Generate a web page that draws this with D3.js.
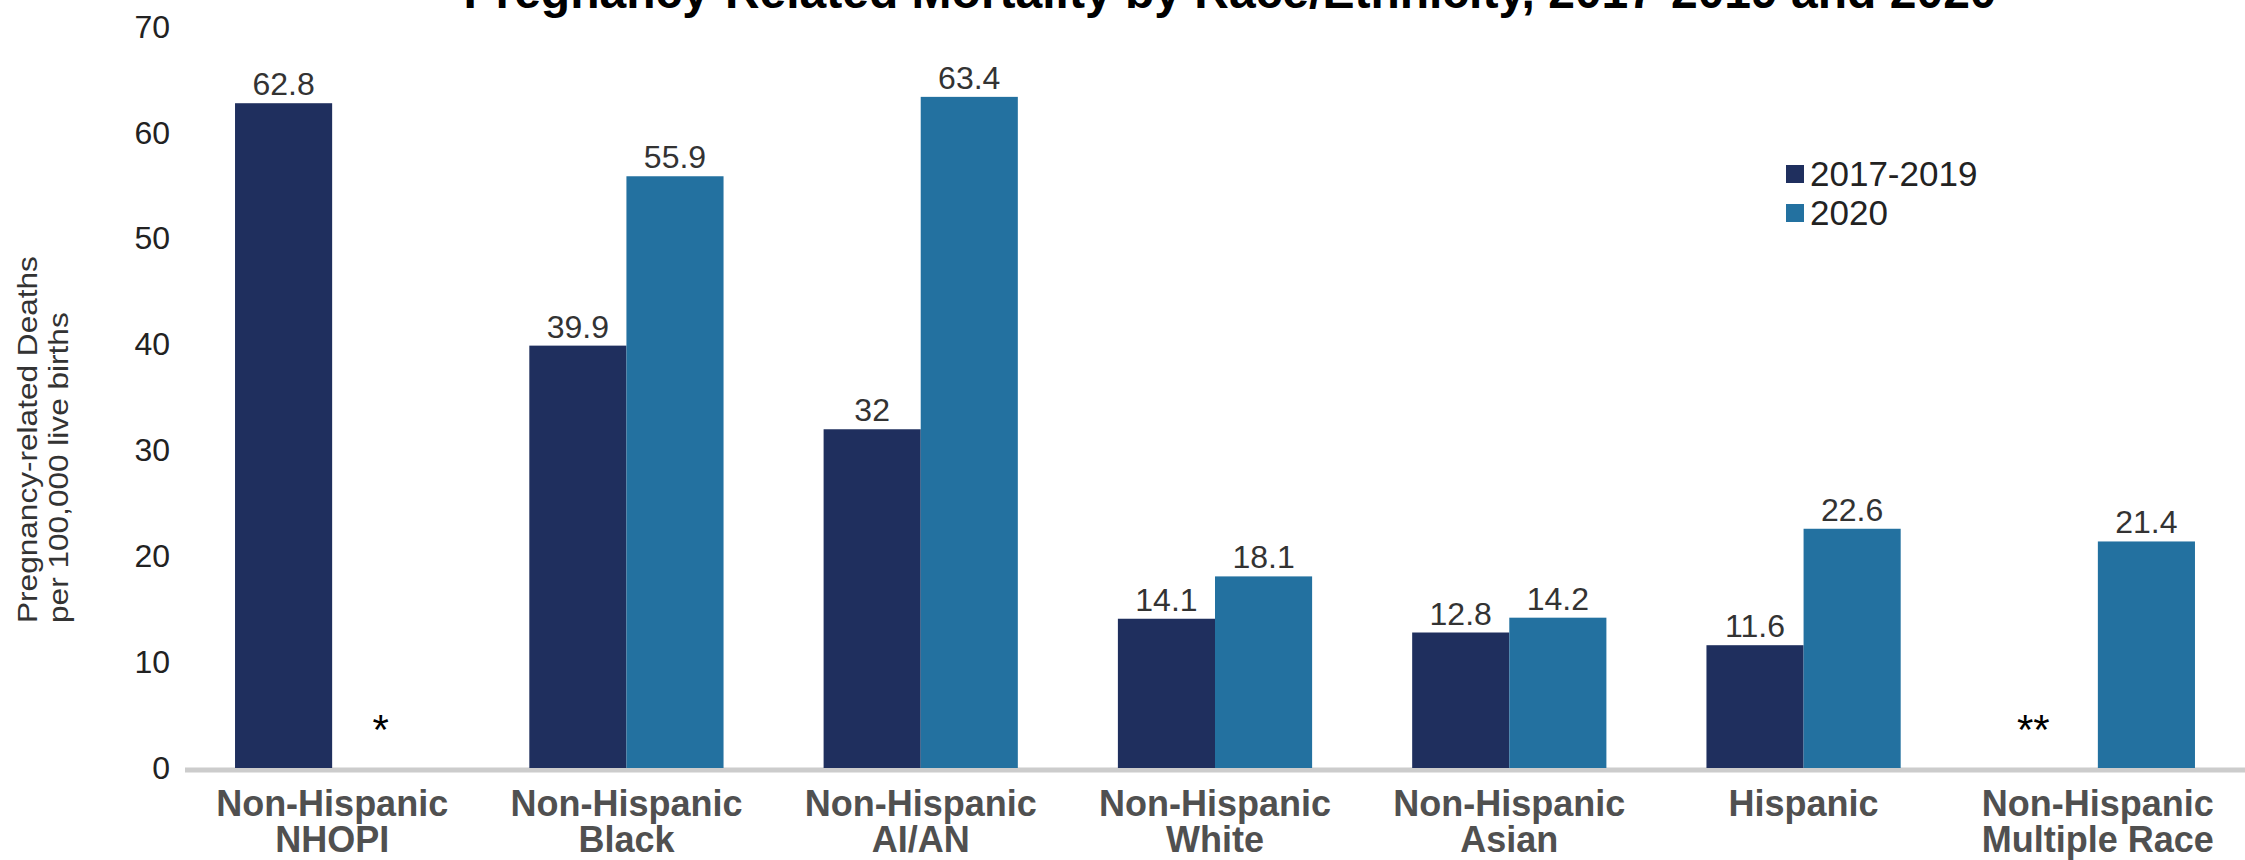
<!DOCTYPE html>
<html>
<head>
<meta charset="utf-8">
<script src="https://cdn.jsdelivr.net/npm/d3@7"></script>
<style>
  html, body { margin: 0; padding: 0; background: #ffffff; }
  svg { display: block; }
</style>
</head>
<body>
<svg id="chart" width="2245" height="860"></svg>
<script>
// Pregnancy-related deaths per 100,000 live births, by race/ethnicity
const categories = ["NHOPI", "Black", "AI/AN", "White", "Asian", "Hispanic", "Multiple Race"];
const categoryLabels = [
  ["Non-Hispanic", "NHOPI"],
  ["Non-Hispanic", "Black"],
  ["Non-Hispanic", "AI/AN"],
  ["Non-Hispanic", "White"],
  ["Non-Hispanic", "Asian"],
  ["Hispanic"],
  ["Non-Hispanic", "Multiple Race"]
];
const seriesNames = ["2017-2019", "2020"];
const values2017to2019 = [62.8, 39.9, 32, 14.1, 12.8, 11.6, null];
const values2020 = [null, 55.9, 63.4, 18.1, 14.2, 22.6, 21.4];
// footnote markers shown where a rate is not reported
const notes2017to2019 = [null, null, null, null, null, null, "**"];
const notes2020 = ["*", null, null, null, null, null, null];
const yTicks = [0, 10, 20, 30, 40, 50, 60, 70];
const titleText = "Pregnancy-Related Mortality by Race/Ethnicity, 2017-2019 and 2020";
const yTitleLines = ["Pregnancy-related Deaths", "per 100,000 live births"];

const colors = ["#1f2f5e", "#2371a0"];
const FONT = "'Liberation Sans', Arial, Helvetica, sans-serif";

const svg = d3.select("#chart");

const x = d3.scaleBand()
  .domain(categories)
  .range([185, 2245])
  .paddingInner(0.34)
  .paddingOuter(0.17);

const xInner = d3.scaleBand()
  .domain(seriesNames)
  .range([0, x.bandwidth()]);

const y = d3.scaleLinear()
  .domain([0, 70])
  .range([768, 27]);

const color = d3.scaleOrdinal().domain(seriesNames).range(colors);

const rows = categories.map((c, i) => ({
  category: c,
  items: [
    { series: seriesNames[0], value: values2017to2019[i], note: notes2017to2019[i] },
    { series: seriesNames[1], value: values2020[i], note: notes2020[i] }
  ]
}));

// title (sits partly above the top edge)
svg.append("text")
  .attr("x", 1230)
  .attr("y", 8)
  .attr("text-anchor", "middle")
  .style("font-family", FONT)
  .style("font-weight", "bold")
  .style("font-size", "48px")
  .style("fill", "#000")
  .text(titleText);

// y axis tick labels
const yAxis = svg.append("g")
  .attr("transform", "translate(170,0)")
  .call(d3.axisLeft(y).tickValues(yTicks).tickSize(0).tickPadding(0).tickFormat(d3.format("d")));
yAxis.select(".domain").remove();
yAxis.selectAll("text")
  .style("font-family", FONT)
  .style("font-size", "32px")
  .style("fill", "#222");

// y axis title, two lines reading upward, aligned at their start
const yTitle = svg.append("g");
yTitleLines.forEach((line, i) => {
  yTitle.append("text")
    .attr("transform", `translate(${37 + i * 31},623) rotate(-90) scale(1.17,1)`)
    .attr("text-anchor", "start")
    .style("font-family", FONT)
    .style("font-size", "27px")
    .style("fill", "#333")
    .text(line);
});

// baseline
svg.append("line")
  .attr("x1", x.range()[0])
  .attr("x2", x.range()[1])
  .attr("y1", y(0) + 2)
  .attr("y2", y(0) + 2)
  .attr("stroke", "#cccccc")
  .attr("stroke-width", 5);

// bars
const groups = svg.append("g").selectAll("g")
  .data(rows)
  .join("g")
  .attr("transform", d => `translate(${x(d.category)},0)`);

groups.selectAll("rect")
  .data(d => d.items.filter(it => it.value != null))
  .join("rect")
  .attr("x", d => xInner(d.series))
  .attr("width", xInner.bandwidth())
  .attr("y", d => y(d.value))
  .attr("height", d => y(0) - y(d.value))
  .attr("fill", d => color(d.series));

// value labels
groups.selectAll("text.value")
  .data(d => d.items.filter(it => it.value != null))
  .join("text")
  .attr("class", "value")
  .attr("x", d => xInner(d.series) + xInner.bandwidth() / 2)
  .attr("y", d => y(d.value) - 8)
  .attr("text-anchor", "middle")
  .style("font-family", FONT)
  .style("font-size", "32px")
  .style("fill", "#333")
  .text(d => String(d.value));

// footnote markers for unreported rates
groups.selectAll("text.note")
  .data(d => d.items.filter(it => it.note))
  .join("text")
  .attr("class", "note")
  .attr("x", d => xInner(d.series) + xInner.bandwidth() / 2 - (d.note.length - 1) * 16)
  .attr("y", y(4.5) + 24)
  .attr("text-anchor", "middle")
  .style("font-family", FONT)
  .style("font-size", "42px")
  .style("fill", "#000")
  .text(d => d.note);

// category labels
const xAxis = svg.append("g")
  .attr("transform", `translate(0,${y(0)})`)
  .call(d3.axisBottom(x).tickSize(0).tickFormat(() => ""));
xAxis.select(".domain").remove();
xAxis.selectAll(".tick text").each(function(d) {
  const lines = categoryLabels[categories.indexOf(d)];
  const t = d3.select(this)
    .attr("y", 0)
    .attr("dy", null)
    .style("font-family", FONT)
    .style("font-weight", "bold")
    .style("font-size", "36px")
    .style("fill", "#505050");
  lines.forEach((line, i) => {
    t.append("tspan")
      .attr("x", 0)
      .attr("y", 48 + i * 36)
      .text(line);
  });
});

// legend
const legend = svg.append("g").attr("transform", "translate(1786,174)");
seriesNames.forEach((s, i) => {
  const row = legend.append("g").attr("transform", `translate(0,${i * 39})`);
  row.append("rect")
    .attr("x", 0)
    .attr("y", -9)
    .attr("width", 18)
    .attr("height", 18)
    .attr("fill", color(s));
  row.append("text")
    .attr("x", 24)
    .attr("y", 0)
    .attr("dy", "0.35em")
    .style("font-family", FONT)
    .style("font-size", "35px")
    .style("fill", "#222")
    .text(s);
});
</script>
</body>
</html>
